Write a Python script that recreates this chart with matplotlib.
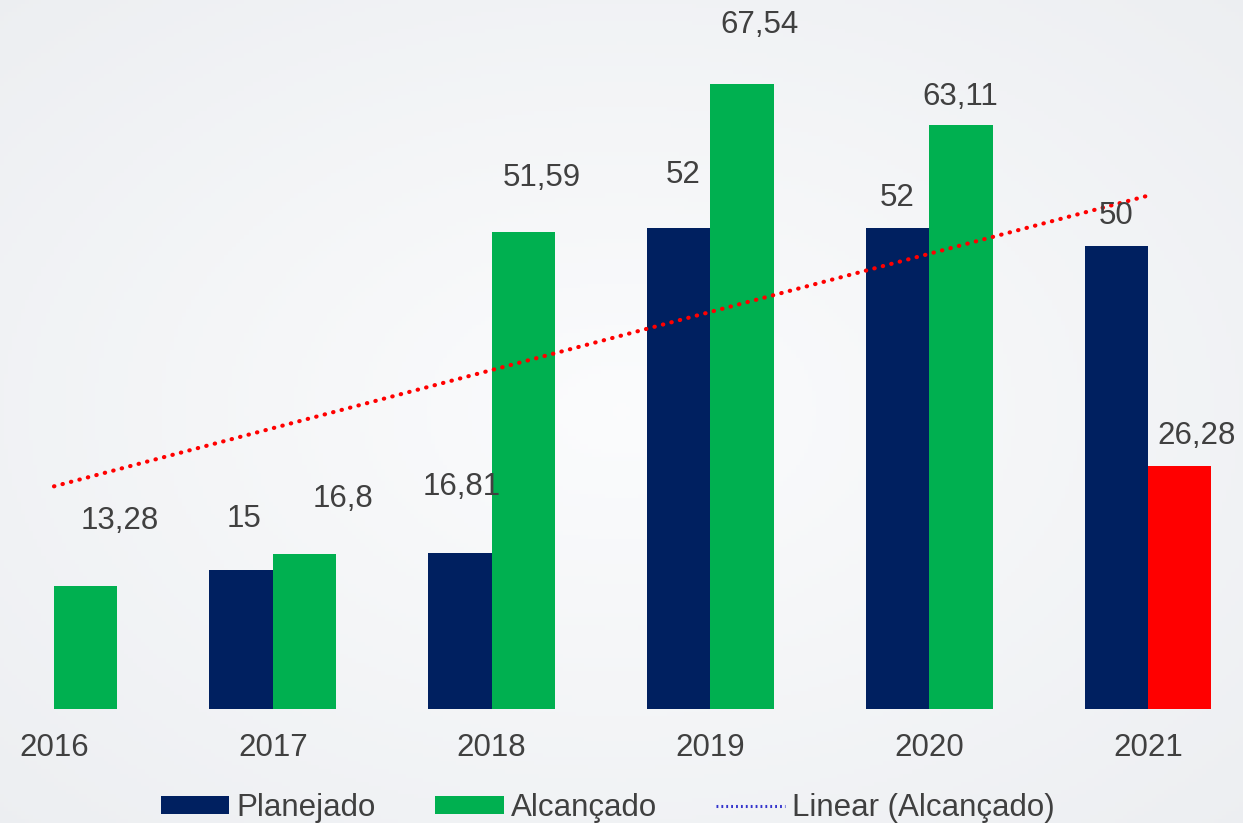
import numpy as np
import matplotlib
matplotlib.use("Agg")
import matplotlib.pyplot as plt
from matplotlib.patches import Patch
from matplotlib.lines import Line2D

plt.rcParams["font.family"] = ["Liberation Sans", "DejaVu Sans"]

# ── data ──────────────────────────────────────────────────────────────
years = ["2016", "2017", "2018", "2019", "2020", "2021"]
planejado = [np.nan, 15, 16.81, 52, 52, 50]
alcancado = [13.28, 16.8, 51.59, 67.54, 63.11, 26.28]
planejado_labels = ["", "15", "16,81", "52", "52", "50"]
alcancado_labels = ["13,28", "16,8", "51,59", "67,54", "63,11", "26,28"]

# label offsets from bar top (pixels)
plan_off = [(0, 0), (3, 51), (2, 66), (4, 53), (0, 30), (0, 30)]
alc_off = [(34, 65), (38, 55), (18, 54), (17, 59), (-1, 28), (17, 30)]

NAVY = "#002060"
GREEN = "#00B050"
RED = "#FF0000"
TXT = "#404040"

W, H = 1243, 823
fig = plt.figure(figsize=(W / 100, H / 100), dpi=100)

# ── background gradient ───────────────────────────────────────────────
bg = fig.add_axes([0, 0, 1, 1])
yy, xx = np.mgrid[0:1:200j, 0:1:300j]
r = np.sqrt(((xx - 0.5) / 0.75) ** 2 + ((yy - 0.5) / 0.75) ** 2)
r = np.clip(r, 0, 1)
c0 = np.array([0.985, 0.988, 0.992])
c1 = np.array([0.925, 0.933, 0.945])
img = c0[None, None, :] * (1 - r[..., None]) + c1[None, None, :] * r[..., None]
bg.imshow(img, aspect="auto", extent=[0, 1, 0, 1])
bg.axis("off")

# ── bars ──────────────────────────────────────────────────────────────
base = 709
ax = fig.add_axes([0, 1 - base / H, 1, base / H])
ax.patch.set_alpha(0)
x = np.arange(len(years))
w = 0.29
colors_alc = [GREEN] * (len(years) - 1) + [RED]

ax.bar(x - w / 2, planejado, w, color=NAVY)
ax.bar(x + w / 2, alcancado, w, color=colors_alc)

for i in range(len(years)):
    if planejado_labels[i]:
        ax.annotate(planejado_labels[i], (x[i] - w / 2, planejado[i]),
                    xytext=plan_off[i], textcoords="offset pixels",
                    ha="center", va="center", fontsize=22.5, color=TXT)
    ax.annotate(alcancado_labels[i], (x[i] + w / 2, alcancado[i]),
                xytext=alc_off[i], textcoords="offset pixels",
                ha="center", va="center", fontsize=22.5, color=TXT)

# linear trend of Alcançado
k, b = np.polyfit(x, alcancado, 1)
ax.plot([x[0], x[-1]], [b, k * x[-1] + b], color=RED, lw=3,
        linestyle=(0, (0.1, 2.0)), dash_capstyle="round")

ax.set_xlim(-54 / 218.8, 5 + 95 / 218.8)
ax.set_ylim(0, base / 9.254)
ax.set_xticks(x)
ax.set_xticklabels(years, fontsize=22.5, color=TXT)
ax.tick_params(axis="x", length=0, pad=17)
ax.set_yticks([])
for s in ax.spines.values():
    s.set_visible(False)

# ── legend ────────────────────────────────────────────────────────────
handles = [
    Patch(facecolor=NAVY, label="Planejado"),
    Patch(facecolor=GREEN, label="Alcançado"),
    Line2D([], [], color="#3333CC", lw=2.2, linestyle=(0, (0.6, 1.0)),
           label="Linear (Alcançado)"),
]
fig.legend(handles=handles, loc="center", bbox_to_anchor=(607.5 / W, 1 - 808 / H),
           ncol=3, frameon=False, fontsize=22.5, labelcolor=TXT,
           handlelength=2.2, handleheight=0.55, handletextpad=0.22,
           columnspacing=1.9, borderpad=0.1)

fig.savefig("out.png", dpi=100)
